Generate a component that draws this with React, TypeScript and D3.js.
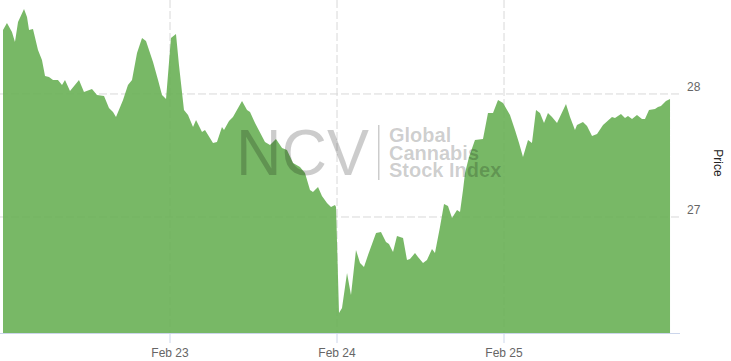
import React from 'react';
import * as d3 from 'd3';

// hours since Feb 22 00:00 (UTC)
const hours = [
  0.0, 0.57, 1.29, 1.72, 2.16, 3.02, 3.45, 3.74, 4.31, 5.03, 5.6, 6.04, 6.61, 7.19, 7.9, 8.48, 8.91, 9.63, 10.92, 11.64,
  12.79, 13.51, 14.52, 15.23, 15.81, 16.24, 17.25, 17.96, 18.54, 19.26, 19.98, 20.55, 21.56, 22.28, 22.85, 23.43, 24.14,
  24.86, 25.29, 26.01, 26.59, 27.31, 27.74, 28.6, 29.03, 30.18, 30.75, 31.47, 31.76, 32.48, 33.05, 34.35, 35.07, 35.5,
  36.22, 37.65, 38.37, 39.23, 40.1, 40.81, 41.68, 42.68, 43.4, 44.12, 44.55, 45.27, 45.84, 46.56, 47.14, 47.71, 47.86,
  48.29, 48.72, 49.44, 50.01, 50.73, 51.31, 51.88, 52.46, 53.61, 54.32, 55.04, 55.47, 56.05, 56.62, 57.49, 58.06, 58.49,
  59.21, 59.64, 60.36, 60.93, 61.65, 62.08, 62.8, 63.38, 63.95, 64.53, 65.25, 65.68, 66.11, 66.4, 66.97, 67.83, 68.98,
  69.7, 70.42, 71.14, 71.86, 72.86, 73.58, 74.16, 74.73, 75.45, 76.02, 76.6, 77.17, 77.75, 78.32, 78.9, 79.62, 80.91,
  81.49, 82.2, 82.49, 83.35, 83.93, 84.65, 85.37, 86.23, 87.52, 87.95, 88.81, 89.39, 89.82, 90.4, 91.11, 91.83, 92.26,
  92.84, 93.7, 94.13, 94.56, 95.28, 95.86,
];

const prices = [
  28.52, 28.577, 28.504, 28.423, 28.585, 28.691, 28.626, 28.52, 28.528, 28.358, 28.276, 28.146, 28.138, 28.114, 28.114,
  28.073, 28.114, 28.024, 28.114, 28.016, 28.041, 27.992, 27.984, 27.886, 27.854, 27.813, 27.951, 28.073, 28.114, 28.333,
  28.455, 28.431, 28.26, 28.114, 27.992, 27.959, 28.455, 28.488, 28.236, 27.87, 27.829, 27.732, 27.789, 27.691, 27.707,
  27.602, 27.61, 27.732, 27.707, 27.781, 27.813, 27.943, 27.87, 27.854, 27.764, 27.61, 27.585, 27.634, 27.561, 27.545,
  27.439, 27.407, 27.358, 27.22, 27.203, 27.244, 27.171, 27.114, 27.081, 27.098, 27.081, 26.22, 26.26, 26.545, 26.366,
  26.732, 26.626, 26.594, 26.691, 26.87, 26.878, 26.797, 26.781, 26.715, 26.846, 26.829, 26.65, 26.659, 26.707, 26.675,
  26.626, 26.65, 26.74, 26.707, 26.919, 27.106, 27.089, 26.992, 27.057, 27.041, 27.22, 27.358, 27.488, 27.626, 27.634,
  27.846, 27.846, 27.951, 27.927, 27.829, 27.707, 27.602, 27.488, 27.626, 27.602, 27.87, 27.846, 27.764, 27.846, 27.813,
  27.764, 27.919, 27.813, 27.707, 27.748, 27.772, 27.74, 27.659, 27.675, 27.748, 27.813, 27.805, 27.837, 27.805, 27.821,
  27.797, 27.829, 27.797, 27.797, 27.87, 27.878, 27.894, 27.902, 27.943, 27.959,
];

const xTickDays = [23, 24, 25];
const yTicks = [27, 28];
const yTitle = 'Price';
const watermarkBig = 'NCV';
const watermarkLines = ['Global', 'Cannabis', 'Stock Index'];

const W = 731;
const H = 361;
const START = Date.UTC(2022, 1, 22);
const HOUR = 3600 * 1000;

export default function App() {
  const plotLeft = 3;
  const plotRight = 671;
  const plotBottom = 333;
  const gridRight = 680;

  const x = d3
    .scaleUtc()
    .domain([new Date(START), new Date(START + 96 * HOUR)])
    .range([plotLeft, plotRight]);
  const y = d3.scaleLinear().domain([26.057, 28.764]).range([plotBottom, 0]);

  const data = hours.map((h, i) => ({ t: new Date(START + h * HOUR), v: prices[i] }));
  const area = d3
    .area<{ t: Date; v: number }>()
    .x((d) => x(d.t))
    .y0(plotBottom)
    .y1((d) => y(d.v));

  const fmt = d3.utcFormat('%b %-d');
  const tickDates = xTickDays.map((d) => new Date(Date.UTC(2022, 1, d)));
  const font = '"Liberation Sans", Arial, sans-serif';

  return (
    <svg
      width={W}
      height={H}
      style={{ position: 'absolute', left: 0, top: 0, background: '#fff' }}
      fontFamily={font}
    >
      {/* gridlines */}
      {yTicks.map((t) => (
        <line key={'gy' + t} x1={0} x2={gridRight} y1={y(t)} y2={y(t)} stroke="#d8d8d8" strokeDasharray="8,3" />
      ))}
      {tickDates.map((d, i) => (
        <line key={'gx' + i} x1={x(d)} x2={x(d)} y1={0} y2={plotBottom} stroke="#d8d8d8" strokeDasharray="8,3" />
      ))}

      {/* area */}
      <path d={area(data) || ''} fill="rgb(105,176,85)" fillOpacity={0.9} />

      {/* x axis */}
      <line x1={0} x2={gridRight} y1={plotBottom + 0.5} y2={plotBottom + 0.5} stroke="#ccd6eb" />
      {tickDates.map((d, i) => (
        <g key={'xt' + i}>
          <line x1={x(d)} x2={x(d)} y1={plotBottom} y2={plotBottom + 10} stroke="#ccd6eb" />
          <text x={x(d)} y={357} textAnchor="middle" fontSize={12} fill="#666">
            {fmt(d)}
          </text>
        </g>
      ))}

      {/* y labels */}
      {yTicks.map((t) => (
        <text key={'yl' + t} x={687} y={y(t) - 3} fontSize={12} fill="#666">
          {t}
        </text>
      ))}
      <text
        transform={`translate(714, 163) rotate(90)`}
        textAnchor="middle"
        fontSize={12}
        fill="#222"
      >
        {yTitle}
      </text>

      {/* watermark */}
      <g fill="#000" fillOpacity={0.2}>
        <text x={236} y={175} fontSize={65} textLength={133} lengthAdjust="spacingAndGlyphs">
          {watermarkBig}
        </text>
        <rect x={378} y={125} width={1.5} height={55} />
        <text x={389} y={142} fontSize={20} fontWeight="bold">
          {watermarkLines.map((l, i) => (
            <tspan key={l} x={389} dy={i === 0 ? 0 : 17.5}>
              {l}
            </tspan>
          ))}
        </text>
      </g>
    </svg>
  );
}
